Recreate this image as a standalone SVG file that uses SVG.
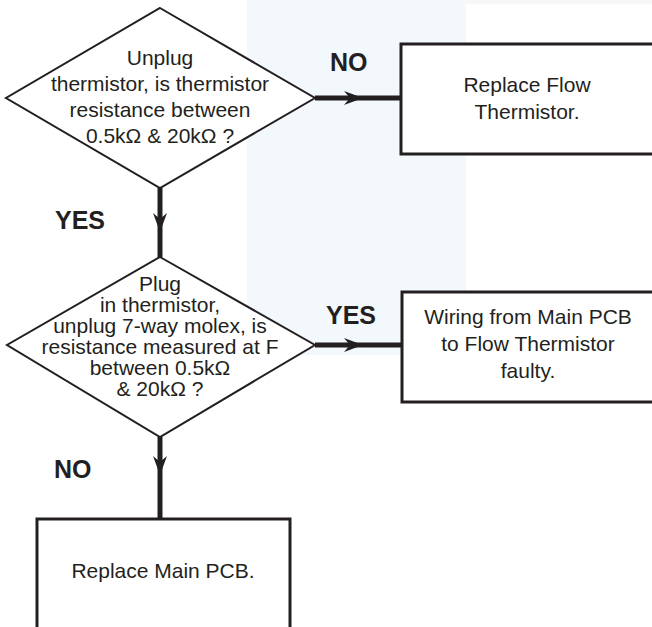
<svg xmlns="http://www.w3.org/2000/svg" width="652" height="627" viewBox="0 0 652 627">
<style>
.bg{fill:#f3f8fc}
.dia{fill:#ffffff;stroke:#231f20;stroke-width:2}
.box{fill:#ffffff;stroke:#231f20;stroke-width:3}
.t{font-family:"Liberation Sans",Arial,sans-serif;font-size:21px;fill:#231f20;text-anchor:middle}
.lbl{font-family:"Liberation Sans",Arial,sans-serif;font-size:25px;font-weight:bold;fill:#231f20}
.ln{stroke:#231f20;stroke-width:5;fill:none}
.ah{fill:#231f20}
</style>
<rect class="bg" x="247" y="0" width="219" height="355"/>
<rect x="466" y="0" width="186" height="4" fill="#f7f7f7"/>
<g id="connectors">
<line class="ln" x1="315" y1="98" x2="401" y2="98"/>
<path class="ah" d="M363,98 L344,91 L350,98 L344,105 Z"/>
<line class="ln" x1="160" y1="188" x2="160" y2="257"/>
<path class="ah" d="M160,232 L153,213 L160,219 L167,213 Z"/>
<line class="ln" x1="315" y1="345" x2="402" y2="345"/>
<path class="ah" d="M363,345 L344,338 L350,345 L344,352 Z"/>
<line class="ln" x1="160" y1="437" x2="160" y2="519"/>
<path class="ah" d="M160,475 L153,456 L160,462 L167,456 Z"/>
<text class="lbl" x="330" y="71">NO</text>
<text class="lbl" x="55" y="229">YES</text>
<text class="lbl" x="326" y="324">YES</text>
<text class="lbl" x="54" y="478">NO</text>
</g>
<g id="decision1">
<polygon class="dia" points="160,8 315,98 160,188 6,98"/>
<text class="t" x="160" y="65">Unplug</text>
<text class="t" x="160" y="91">thermistor, is thermistor</text>
<text class="t" x="160" y="117">resistance between</text>
<text class="t" x="160" y="143">0.5kΩ &amp; 20kΩ ?</text>
</g>
<g id="replaceThermistor">
<rect class="box" x="401" y="44" width="270" height="110"/>
<text class="t" x="527" y="92">Replace Flow</text>
<text class="t" x="527" y="119">Thermistor.</text>
</g>
<g id="decision2">
<polygon class="dia" points="160,257 315,345 160,437 7,345"/>
<text class="t" x="160" y="291">Plug</text>
<text class="t" x="160" y="312">in thermistor,</text>
<text class="t" x="160" y="333">unplug 7-way molex, is</text>
<text class="t" x="160" y="354">resistance measured at F</text>
<text class="t" x="160" y="375">between 0.5kΩ</text>
<text class="t" x="160" y="396">&amp; 20kΩ ?</text>
</g>
<g id="wiringFaulty">
<rect class="box" x="402" y="292" width="270" height="110"/>
<text class="t" x="528" y="324">Wiring from Main PCB</text>
<text class="t" x="528" y="351">to Flow Thermistor</text>
<text class="t" x="528" y="378">faulty.</text>
</g>
<g id="replaceMainPCB">
<rect class="box" x="37" y="519" width="253" height="130"/>
<text class="t" x="163" y="578">Replace Main PCB.</text>
</g>
</svg>
